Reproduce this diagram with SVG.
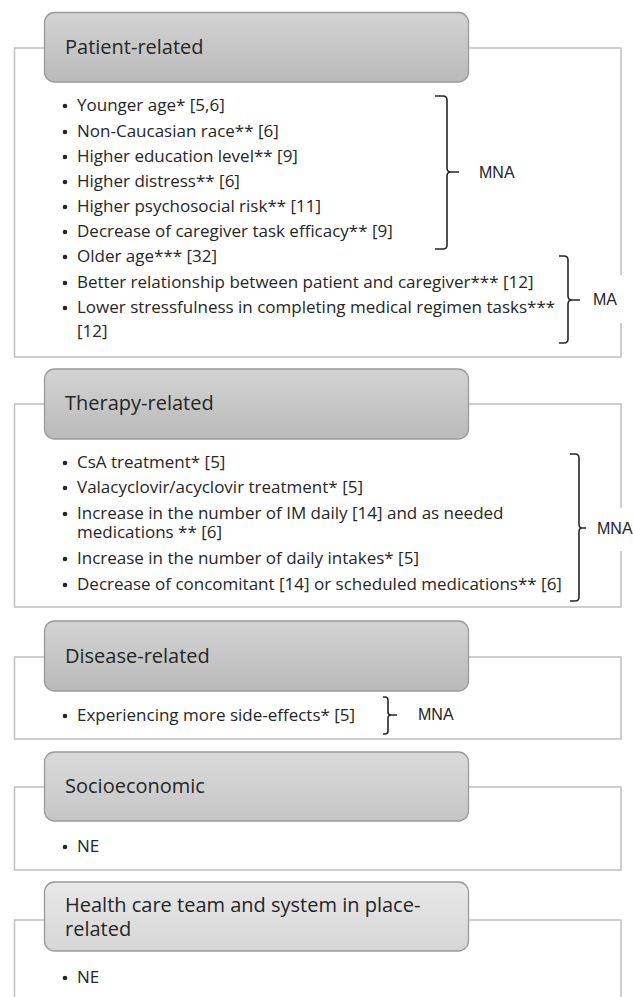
<svg xmlns="http://www.w3.org/2000/svg" width="633" height="997" viewBox="0 0 633 997">
<defs>
<linearGradient id="gDark" x1="0" y1="0" x2="0" y2="1">
<stop offset="0" stop-color="#d3d3d3"/>
<stop offset="1" stop-color="#bababa"/>
</linearGradient>
<linearGradient id="gMid" x1="0" y1="0" x2="0" y2="1">
<stop offset="0" stop-color="#dadada"/>
<stop offset="1" stop-color="#c6c6c6"/>
</linearGradient>
<linearGradient id="gLight" x1="0" y1="0" x2="0" y2="1">
<stop offset="0" stop-color="#e8e8e8"/>
<stop offset="1" stop-color="#d6d6d6"/>
</linearGradient>
</defs>
<style>
.outer{fill:#ffffff;stroke:#bfbfbf;stroke-width:1.5}
.hdr{stroke:#9a9a9a;stroke-width:1.3}
.ht{font-family:"Open Sans",sans-serif;font-size:20px;fill:#262626}
.it{font-family:"Open Sans",sans-serif;font-size:17px;fill:#262626}
.lbl{font-family:"Liberation Sans",Arial,sans-serif;font-size:16px;fill:#262626}
.br{fill:none;stroke:#262626;stroke-width:1.6}
.mask{fill:#ffffff;stroke:none}
.bu{fill:#262626}
</style>
<rect width="633" height="997" fill="#ffffff"/>

<g id="patient-related">
<rect class="outer" x="14.5" y="48" width="606.5" height="309"/>
<rect class="hdr" x="44.5" y="12.5" width="424" height="69.5" rx="10" fill="url(#gDark)"/>
<text class="ht" x="65" y="54">Patient-related</text>
<circle class="bu" cx="65" cy="106" r="2.3"/><text class="it" x="77" y="111">Younger age* [5,6]</text>
<circle class="bu" cx="65" cy="132" r="2.3"/><text class="it" x="77" y="137">Non-Caucasian race** [6]</text>
<circle class="bu" cx="65" cy="157" r="2.3"/><text class="it" x="77" y="162">Higher education level** [9]</text>
<circle class="bu" cx="65" cy="182" r="2.3"/><text class="it" x="77" y="187">Higher distress** [6]</text>
<circle class="bu" cx="65" cy="207" r="2.3"/><text class="it" x="77" y="212">Higher psychosocial risk** [11]</text>
<circle class="bu" cx="65" cy="232" r="2.3"/><text class="it" x="77" y="237">Decrease of caregiver task efficacy** [9]</text>
<circle class="bu" cx="65" cy="257" r="2.3"/><text class="it" x="77" y="262">Older age*** [32]</text>
<circle class="bu" cx="65" cy="283" r="2.3"/><text class="it" x="77" y="288">Better relationship between patient and caregiver*** [12]</text>
<circle class="bu" cx="65" cy="308" r="2.3"/><text class="it" x="77" y="313">Lower stressfulness in completing medical regimen tasks***</text>
<text class="it" x="77" y="337">[12]</text>
</g>

<g id="therapy-related">
<rect class="outer" x="14.5" y="404" width="606.5" height="203"/>
<rect class="hdr" x="44.5" y="369" width="424" height="70" rx="10" fill="url(#gDark)"/>
<text class="ht" x="65" y="410">Therapy-related</text>
<circle class="bu" cx="65" cy="463" r="2.3"/><text class="it" x="77" y="468">CsA treatment* [5]</text>
<circle class="bu" cx="65" cy="488" r="2.3"/><text class="it" x="77" y="493">Valacyclovir/acyclovir treatment* [5]</text>
<circle class="bu" cx="65" cy="514" r="2.3"/><text class="it" x="77" y="519">Increase in the number of IM daily [14] and as needed</text>
<text class="it" x="77" y="538">medications ** [6]</text>
<circle class="bu" cx="65" cy="559" r="2.3"/><text class="it" x="77" y="564">Increase in the number of daily intakes* [5]</text>
<circle class="bu" cx="65" cy="585" r="2.3"/><text class="it" x="77" y="590">Decrease of concomitant [14] or scheduled medications** [6]</text>
</g>

<g id="disease-related">
<rect class="outer" x="14.5" y="657" width="606.5" height="82"/>
<rect class="hdr" x="44.5" y="621" width="424" height="70" rx="10" fill="url(#gDark)"/>
<text class="ht" x="65" y="663">Disease-related</text>
<circle class="bu" cx="65" cy="716" r="2.3"/><text class="it" x="77" y="721">Experiencing more side-effects* [5]</text>
</g>

<g id="socioeconomic">
<rect class="outer" x="14.5" y="787" width="606.5" height="83"/>
<rect class="hdr" x="44.5" y="752" width="424" height="69" rx="10" fill="url(#gMid)"/>
<text class="ht" x="65" y="793">Socioeconomic</text>
<circle class="bu" cx="65" cy="847" r="2.3"/><text class="it" x="77" y="852">NE</text>
</g>

<g id="health-care">
<rect class="outer" x="14.5" y="920" width="606.5" height="100"/>
<rect class="hdr" x="44.5" y="882" width="424" height="69" rx="10" fill="url(#gLight)"/>
<text class="ht"><tspan x="65" y="912">Health care team and system in place-</tspan><tspan x="65" y="936">related</tspan></text>
<circle class="bu" cx="65" cy="978" r="2.3"/><text class="it" x="77" y="983">NE</text>
</g>

<g id="connectors">
<path class="br" d="M435 96 L443 96 Q447 96 447 100 L447 168 Q447 172 451 172 L459 172 M451 172 Q447 172 447 176 L447 245 Q447 249 443 249 L435 249"/>
<path class="br" d="M559 256 L564 256 Q568 256 568 260 L568 296 Q568 300 572 300 L580 300 M572 300 Q568 300 568 304 L568 339 Q568 343 564 343 L559 343"/>
<path class="br" d="M570 454 L575 454 Q579 454 579 458 L579 524 Q579 528 582 528 L586 528 M582 528 Q579 528 579 532 L579 597 Q579 601 575 601 L570 601"/>
<path class="br" d="M383 697 L385 697 Q388 697 388 700 L388 712 Q388 715 391 715 L397 715 M391 715 Q388 715 388 718 L388 731 Q388 734 385 734 L383 734"/>
</g>

<g id="labels">
<text class="lbl" x="479" y="178">MNA</text>
<rect class="mask" x="588" y="275" width="45" height="48"/>
<text class="lbl" x="593" y="305">MA</text>
<rect class="mask" x="592" y="508" width="41" height="43"/>
<text class="lbl" x="597" y="534">MNA</text>
<text class="lbl" x="418" y="720">MNA</text>
</g>
</svg>
